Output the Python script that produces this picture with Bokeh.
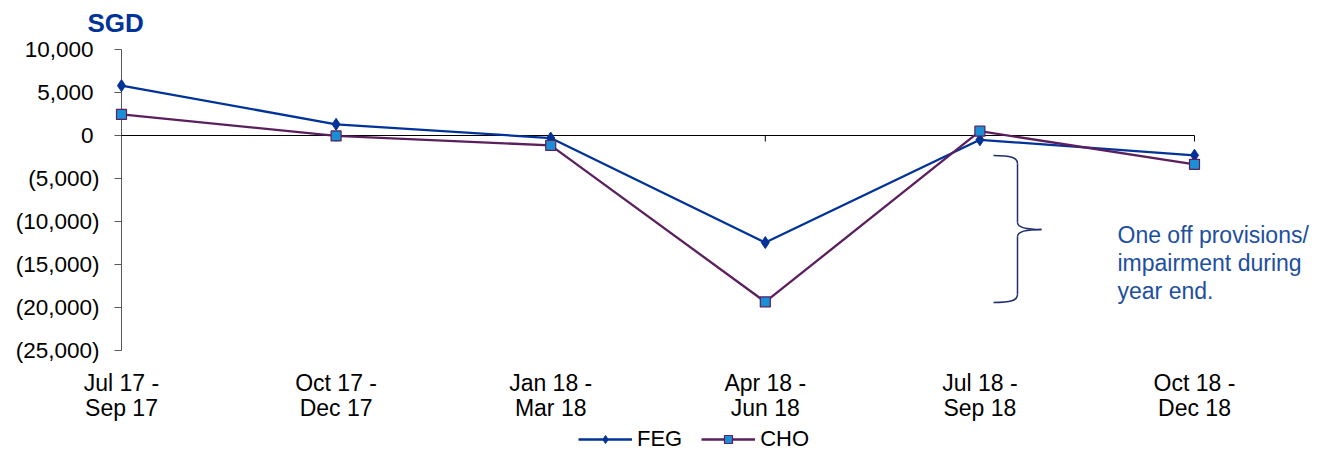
from bokeh.plotting import figure
from bokeh.models import Range1d, Legend, LegendItem
from bokeh.core.properties import value
from bokeh.embed import file_html
from bokeh.resources import INLINE

# ---- data ----
categories = ["Jul 17 -\nSep 17", "Oct 17 -\nDec 17", "Jan 18 -\nMar 18",
              "Apr 18 -\nJun 18", "Jul 18 -\nSep 18", "Oct 18 -\nDec 18"]
feg = [5800, 1300, -300, -12450, -500, -2300]
cho = [2450, -50, -1150, -19350, 500, -3350]
y_ticks = [10000, 5000, 0, -5000, -10000, -15000, -20000, -25000]
y_tick_labels = ["10,000", "5,000", "0", "(5,000)", "(10,000)", "(15,000)", "(20,000)", "(25,000)"]
note_lines = ["One off provisions/", "impairment during", "year end."]
unit_title = "SGD"

x_idx = list(range(len(categories)))

# ---- layout (whole canvas is the frame; scales map pixels) ----
W, H = 1319, 452
X0_PX, X5_PX = 121, 1194          # first / last category position
YTOP_PX, YBOT_PX = 49, 350        # 10,000 and (25,000) positions
YMIN, YMAX = -25000, 10000
FONT = "Liberation Sans"

ux = (X5_PX - X0_PX) / (len(categories) - 1)
uy = (YBOT_PX - YTOP_PX) / (YMAX - YMIN)


def dx(px):
    return (px - X0_PX) / ux


def dy(py):
    return YMAX - (py - YTOP_PX) / uy


p = figure(width=W, height=H, output_backend="svg", toolbar_location=None,
           x_range=Range1d(dx(0), dx(W)), y_range=Range1d(dy(H), dy(0)),
           x_axis_location=None, y_axis_location=None,
           min_border=0, min_border_left=0, min_border_right=0,
           min_border_top=0, min_border_bottom=0)
p.background_fill_color = "white"
p.border_fill_color = "white"
p.outline_line_color = None
p.xgrid.grid_line_color = None
p.ygrid.grid_line_color = None

# ---- axes drawn through the scales ----
n_y = len(y_ticks)
AX = "#595959"
p.segment(x0=[0], y0=[YMIN], x1=[0], y1=[YMAX], line_color=AX, line_width=1)
p.segment(x0=[0] * n_y, y0=y_ticks, x1=[-7 / ux] * n_y, y1=y_ticks,
          line_color=AX, line_width=1)
p.segment(x0=[0], y0=[0], x1=[x_idx[-1]], y1=[0], line_color="black", line_width=1)
p.segment(x0=x_idx[1:], y0=[0] * (len(x_idx) - 1), x1=x_idx[1:],
          y1=[-6 / uy] * (len(x_idx) - 1), line_color="black", line_width=1)

# y tick labels (parenthesised negatives hang past the digits)
ylab_x = [-22 / ux if t.startswith("(") else -28 / ux for t in y_tick_labels]
p.text(x=ylab_x, y=y_ticks, text=y_tick_labels, text_font=value(FONT),
       text_font_size="22.5px", text_color="black", text_align="right",
       text_baseline="middle")

# x tick labels (two lines)
top_lines = [c.split("\n")[0] for c in categories]
bot_lines = [c.split("\n")[1] for c in categories]
p.text(x=x_idx, y=[dy(382)] * len(x_idx), text=top_lines, text_font=value(FONT),
       text_font_size="23px", text_color="black", text_align="center",
       text_baseline="middle")
p.text(x=x_idx, y=[dy(407)] * len(x_idx), text=bot_lines, text_font=value(FONT),
       text_font_size="23px", text_color="black", text_align="center",
       text_baseline="middle")

# ---- series ----
FEG_C = "#003399"
CHO_C = "#5b1f5e"
l1 = p.line(x_idx, feg, line_color=FEG_C, line_width=2.3)
s1 = p.scatter(x_idx, feg, marker="diamond", size=12, fill_color=FEG_C, line_color=FEG_C)
l2 = p.line(x_idx, cho, line_color=CHO_C, line_width=2.3)
s2 = p.scatter(x_idx, cho, marker="square", size=10, fill_color="#1a8fd6",
               line_color=CHO_C, line_width=1.2)

# ---- brace annotation ----
BR = "#1f2f6e"
bx0, bx1, bx2 = dx(993), dx(1017), dx(1041)
yt, yt2, ym1, ym, ym2, yb2, yb = dy(155), dy(163), dy(222), dy(229), dy(236), dy(294), dy(302)
p.bezier(x0=[bx0, bx1, bx2, bx1], y0=[yt, ym1, ym, yb2],
         x1=[bx1, bx2, bx1, bx0], y1=[yt2, ym, ym2, yb],
         cx0=[dx(1010), bx1, dx(1026), bx1], cy0=[yt, dy(227), ym, dy(300)],
         cx1=[bx1, dx(1026), bx1, dx(1010)], cy1=[dy(157), ym, dy(231), yb],
         line_color=BR, line_width=1.5)
p.segment(x0=[bx1, bx1], y0=[yt2, ym2], x1=[bx1, bx1], y1=[ym1, yb2],
          line_color=BR, line_width=1.5)

p.text(x=[dx(1117)] * len(note_lines), y=[dy(234 + 28 * i) for i in range(len(note_lines))],
       text=note_lines, text_font=value(FONT), text_font_size="23px",
       text_color="#1c4fa0", text_align="left", text_baseline="middle")

p.text(x=[dx(87)], y=[dy(22)], text=[unit_title], text_font=value(FONT),
       text_font_size="26px", text_font_style="bold", text_color=FEG_C,
       text_align="left", text_baseline="middle")

# ---- legend ----
legend = Legend(items=[LegendItem(label="FEG", renderers=[l1, s1]),
                       LegendItem(label="CHO", renderers=[l2, s2])],
                orientation="horizontal", location=(578, 0),
                glyph_width=54, glyph_height=20, label_height=20, label_standoff=5,
                spacing=19, padding=0, margin=0, border_line_color=None,
                background_fill_alpha=0, label_text_font=FONT,
                label_text_font_size="22px", label_text_color="black")
p.add_layout(legend)

open("out.html", "w").write(file_html(p, INLINE))
